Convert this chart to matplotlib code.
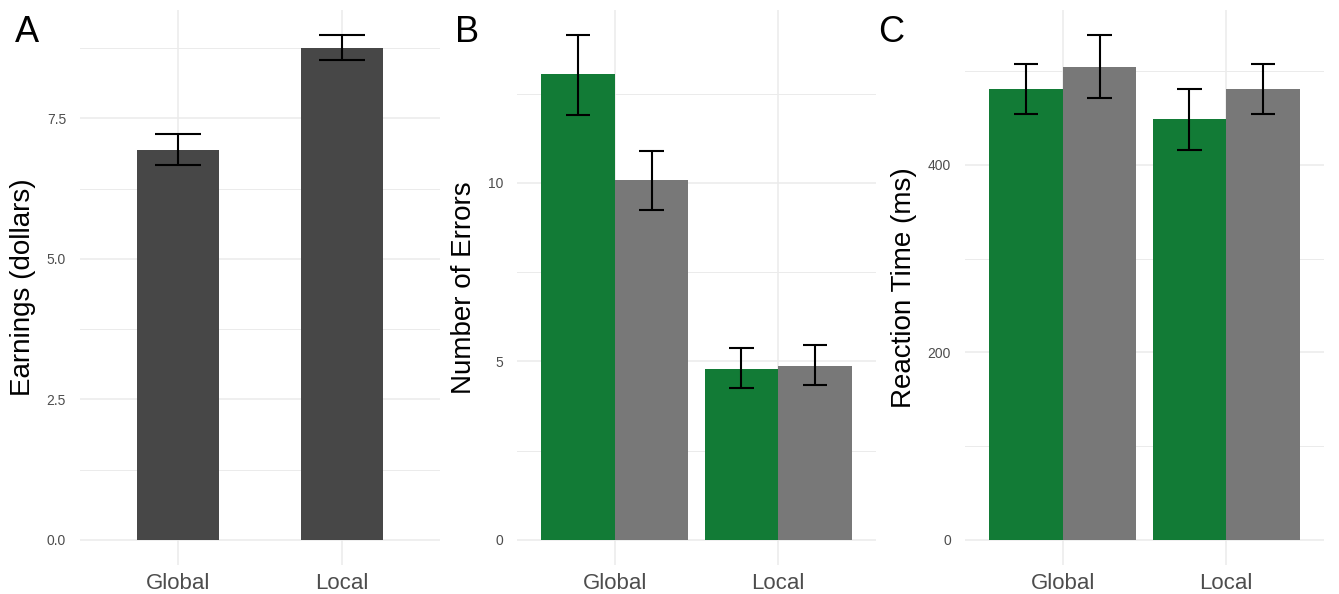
import numpy as np
import matplotlib
matplotlib.use('Agg')
import matplotlib.pyplot as plt

plt.rcParams['font.family'] = ['Liberation Sans', 'DejaVu Sans']

categories = ['Global', 'Local']

earn_mean = [6.94, 8.75]
earn_lo = [6.67, 8.54]
earn_hi = [7.22, 8.99]

err_green = [13.05, 4.79]
err_green_lo = [11.90, 4.26]
err_green_hi = [14.15, 5.38]
err_gray = [10.08, 4.87]
err_gray_lo = [9.24, 4.34]
err_gray_hi = [10.90, 5.46]

rt_green = [481, 449]
rt_green_lo = [454, 416]
rt_green_hi = [508, 481]
rt_gray = [505, 481]
rt_gray_lo = [471, 454]
rt_gray_hi = [539, 508]

GREEN = '#127b36'
GRAY = '#787878'
DARK = '#474747'
GRID = '#ebebeb'


def style(ax, major, minor, top, fmt):
    ax.set_xlim(0.4, 2.6)
    ax.set_ylim(-0.05 * top, top * 1.05)
    ax.set_xticks([1, 2])
    ax.set_xticklabels(categories, fontsize=16, color='#4d4d4d')
    ax.set_yticks(major)
    ax.set_yticklabels([fmt.format(v) for v in major], fontsize=10, color='#4d4d4d')
    ax.set_yticks(minor, minor=True)
    ax.tick_params(length=0, which='both')
    ax.tick_params(axis='y', pad=10)
    ax.tick_params(axis='x', pad=6)
    ax.grid(True, which='major', color=GRID, lw=1.1)
    ax.grid(True, which='minor', axis='y', color=GRID, lw=0.7)
    ax.set_axisbelow(True)
    for s in ax.spines.values():
        s.set_visible(False)


def ebar(ax, x, lo, hi, cap):
    x = np.asarray(x, float)
    lo = np.asarray(lo); hi = np.asarray(hi)
    ax.vlines(x, lo, hi, color='black', lw=1.5, zorder=3)
    ax.hlines(lo, x - cap, x + cap, color='black', lw=1.5, zorder=3)
    ax.hlines(hi, x - cap, x + cap, color='black', lw=1.5, zorder=3)


fig = plt.figure(figsize=(13.39, 5.94), dpi=100)
W, H = 1339, 594
def box(x0, x1, y_top, y_bot):
    return [x0 / W, (H - y_bot) / H, (x1 - x0) / W, (y_bot - y_top) / H]

axA = fig.add_axes(box(80, 440, 9.5, 565))
axB = fig.add_axes(box(517, 876, 9.5, 565))
axC = fig.add_axes(box(965, 1324, 9.5, 565))

x = np.arange(1, len(categories) + 1)

# A
axA.bar(x, earn_mean, width=0.5, color=DARK, zorder=2)
ebar(axA, x, earn_lo, earn_hi, 0.14)
style(axA, [0, 2.5, 5.0, 7.5], [1.25, 3.75, 6.25, 8.75], 8.99, '{:.1f}')
axA.set_ylabel('Earnings (dollars)', fontsize=20, labelpad=8)

# B and C: dodged bars
w = 0.45
for ax, g, glo, ghi, r, rlo, rhi in [
        (axB, err_green, err_green_lo, err_green_hi, err_gray, err_gray_lo, err_gray_hi),
        (axC, rt_green, rt_green_lo, rt_green_hi, rt_gray, rt_gray_lo, rt_gray_hi)]:
    ax.bar(x - w / 2, g, width=w, color=GREEN, zorder=2)
    ax.bar(x + w / 2, r, width=w, color=GRAY, zorder=2)
    ebar(ax, x - w / 2, glo, ghi, 0.075)
    ebar(ax, x + w / 2, rlo, rhi, 0.075)

style(axB, [0, 5, 10], [2.5, 7.5, 12.5], 14.15, '{:.0f}')
axB.set_ylabel('Number of Errors', fontsize=20, labelpad=8)
style(axC, [0, 200, 400], [100, 300, 500], 539, '{:.0f}')
axC.set_ylabel('Reaction Time (ms)', fontsize=20, labelpad=8)

for lab, px in [('A', 15), ('B', 455), ('C', 878)]:
    fig.text(px / W, 1 - 32 / H, lab, fontsize=26, va='center', ha='left')

fig.savefig('out.png', dpi=100)
